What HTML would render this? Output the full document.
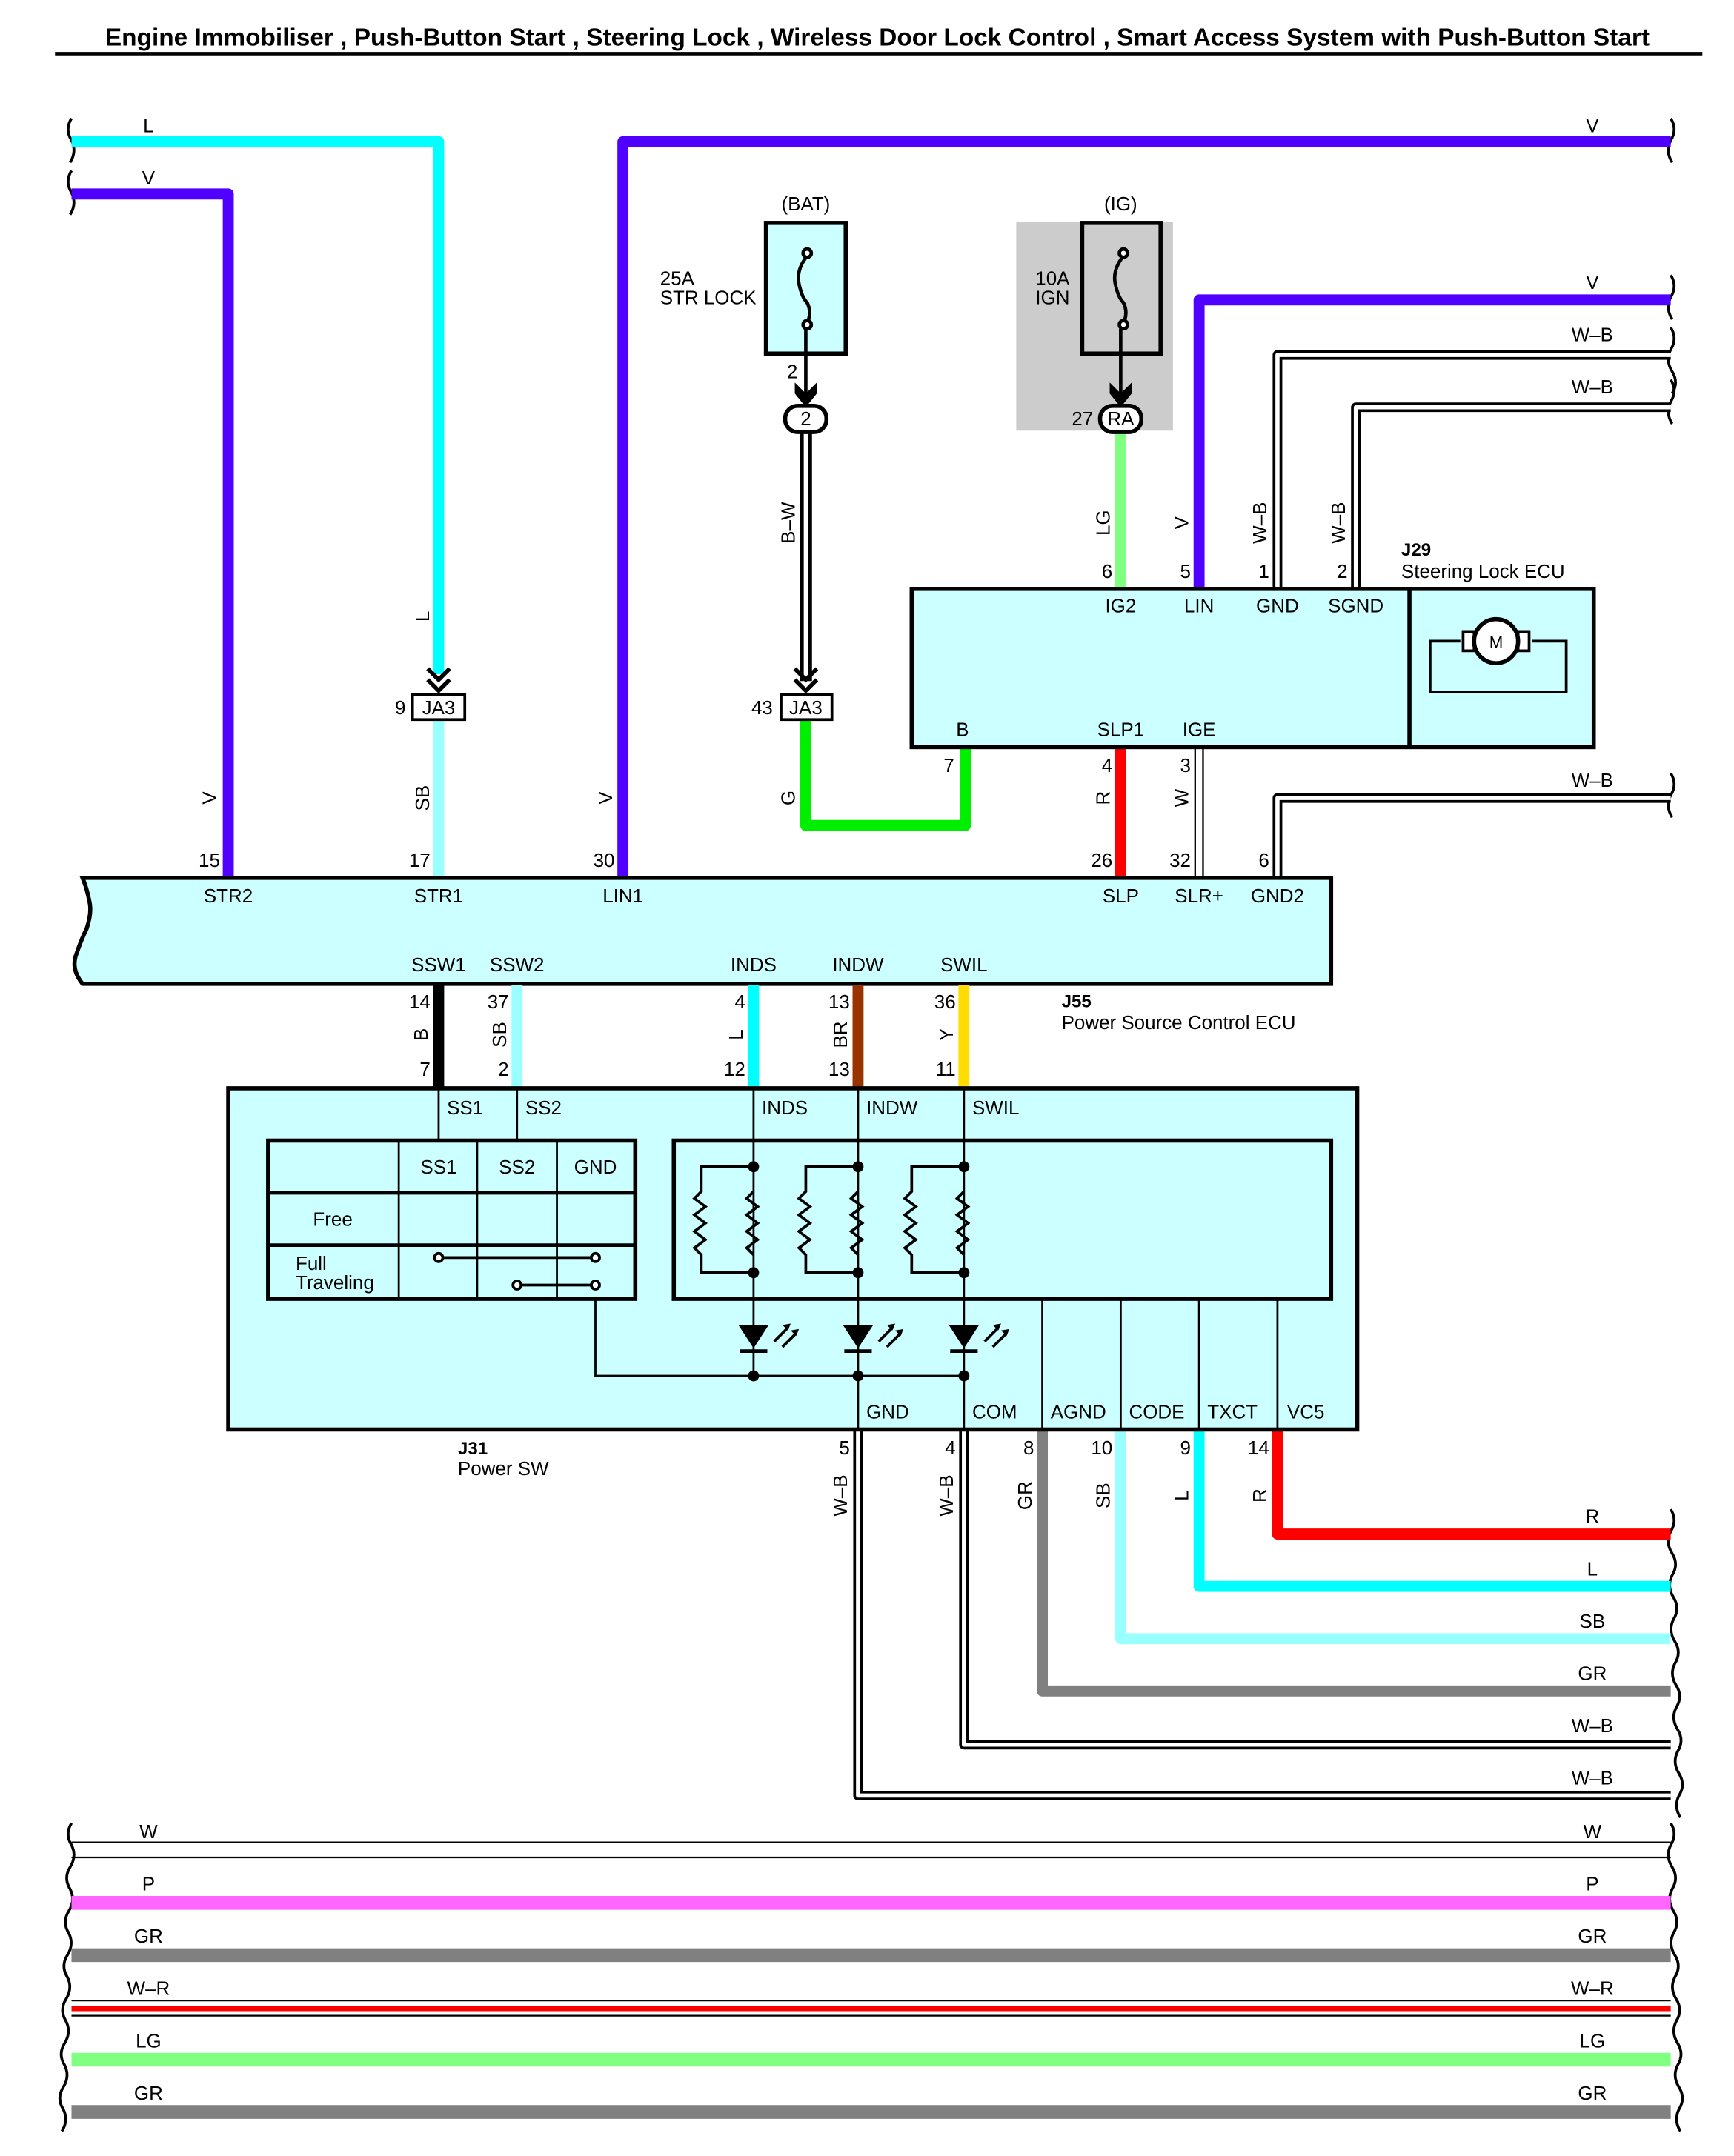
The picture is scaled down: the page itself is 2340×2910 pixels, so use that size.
<!DOCTYPE html>
<html><head><meta charset="utf-8"><style>
html,body{margin:0;padding:0;background:#fff;}
svg{display:block;}
text{font-family:"Liberation Sans",sans-serif;font-size:14px;fill:#000;}
.c{text-anchor:middle;}
.r{text-anchor:end;}
.b{font-weight:bold;}
</style></head><body>
<svg width="2340" height="2910" viewBox="0 0 1261 1567" preserveAspectRatio="none" xmlns="http://www.w3.org/2000/svg">
<rect width="1261" height="1567" fill="#fff"/>
<text x="638" y="33" class="c b" style="font-size:18px">Engine Immobiliser , Push-Button Start , Steering Lock , Wireless Door Lock Control , Smart Access System with Push-Button Start</text>
<line x1="40" y1="39" x2="1238" y2="39" stroke="#000" stroke-width="2.5"/>

<!-- wavy edges -->
<g fill="none" stroke="#000" stroke-width="2">
<path d="M52,86 q-5,8 0,16 q4,8 -1,16"/><path d="M52,124 q-5,8 0,16 q4,8 -1,16"/>
<path d="M1215,86 q5,8 0,16 q-4,8 1,16"/>
<path d="M1215,200 q5,8 0,16 q-4,8 1,16"/>
<path d="M1215,238 q5,8 0,16 q-4,8 1,16 q5,8 0,16"/>
<path d="M1215,276 q5,8 0,16 q-4,8 1,16"/>
<path d="M1215,562 q5,8 0,16 q-4,8 1,16"/>
<path d="M1215,1097 q5,8 0,16 q-4,8 1,16 q5,8 0,16 q-4,8 1,16 q5,8 0,16 q-4,8 1,16 q5,8 0,16 q-4,8 1,16 q5,8 0,16 q-4,8 1,16 q5,8 0,16 q-4,8 1,16 q5,8 0,16 q-4,8 1,16"/>
<path d="M52,1325 q-5,8 0,16 q4,8 -1,16 q-5,8 0,16 q4,8 -1,16 q-5,8 0,16 q4,8 -1,16 q-5,8 0,16 q4,8 -1,16 q-5,8 0,16 q4,8 -1,16 q-5,8 0,16 q4,8 -1,16 q-5,8 0,16 q4,8 -1,16"/>
<path d="M1215,1325 q5,8 0,16 q-4,8 1,16 q5,8 0,16 q-4,8 1,16 q5,8 0,16 q-4,8 1,16 q5,8 0,16 q-4,8 1,16 q5,8 0,16 q-4,8 1,16 q5,8 0,16 q-4,8 1,16 q5,8 0,16 q-4,8 1,16"/>
</g>

<!-- top wires -->
<g fill="none" stroke-linejoin="round">
<path d="M52,103 H319 V490" stroke="#00ffff" stroke-width="8"/>
<path d="M52,141 H166 V637" stroke="#5000ff" stroke-width="8"/>
<path d="M453,637 V103 H1215" stroke="#5000ff" stroke-width="8"/>
<path d="M872,428 V218 H1215" stroke="#5000ff" stroke-width="8"/>
<path d="M319,523 V637" stroke="#99ffff" stroke-width="8"/>
<path d="M815,313 V428" stroke="#80ff80" stroke-width="8"/>
<path d="M586,523 V600 H702 V543" stroke="#00ee00" stroke-width="8"/>
<path d="M815,543 V637" stroke="#ff0000" stroke-width="8"/>
<path d="M929,428 V258 H1215" stroke="#000" stroke-width="7"/><path d="M929,428 V258 H1215" stroke="#fff" stroke-width="3"/>
<path d="M986,428 V296 H1215" stroke="#000" stroke-width="7"/><path d="M986,428 V296 H1215" stroke="#fff" stroke-width="3"/>
<path d="M929,637 V580 H1215" stroke="#000" stroke-width="7"/><path d="M929,637 V580 H1215" stroke="#fff" stroke-width="3"/>
<path d="M872,543 V637" stroke="#000" stroke-width="7"/><path d="M872,543 V637" stroke="#fff" stroke-width="4.5"/>
<path d="M586,313 V495" stroke="#000" stroke-width="9"/><path d="M586,313 V495" stroke="#fff" stroke-width="3"/>
</g>

<g fill="none" stroke="#000" stroke-width="3">
<path d="M311,486 l8,8 l8,-8 M311,494 l8,8 l8,-8"/>
<path d="M578,486 l8,8 l8,-8 M578,494 l8,8 l8,-8"/>
</g>
<rect x="300" y="505" width="38" height="18" fill="#fff" stroke="#000" stroke-width="2"/>
<text x="319" y="519" class="c">JA3</text><text x="295" y="519" class="r">9</text>
<rect x="568" y="505" width="37" height="18" fill="#fff" stroke="#000" stroke-width="2"/>
<text x="586" y="519" class="c">JA3</text><text x="562" y="519" class="r">43</text>

<!-- fuses -->
<rect x="739" y="161" width="114" height="152" fill="#cccccc"/>
<rect x="557" y="162" width="58" height="95" fill="#ccffff" stroke="#000" stroke-width="3"/>
<rect x="787" y="162" width="57" height="95" fill="none" stroke="#000" stroke-width="3"/>
<g fill="none" stroke="#000" stroke-width="2.5">
<path d="M587,186 q-8,10 -6,20 q2,10 6,14 q4,8 -1,17"/><circle cx="587" cy="184" r="3" fill="#fff"/><circle cx="587" cy="236" r="3" fill="#fff"/>
<path d="M817,186 q-8,10 -6,20 q2,10 6,14 q4,8 -1,17"/><circle cx="817" cy="184" r="3" fill="#fff"/><circle cx="817" cy="236" r="3" fill="#fff"/>
<line x1="586" y1="239" x2="586" y2="290"/><line x1="815" y1="239" x2="815" y2="290"/>
</g>
<path d="M578,278 l8,8 l8,-8 v8 l-8,10 l-8,-10z" fill="#000"/>
<path d="M807,278 l8,8 l8,-8 v8 l-8,10 l-8,-10z" fill="#000"/>
<rect x="571" y="295" width="30" height="19" rx="9" fill="#fff" stroke="#000" stroke-width="3"/>
<text x="586" y="309" class="c">2</text>
<rect x="800" y="295" width="30" height="19" rx="9" fill="#fff" stroke="#000" stroke-width="3"/>
<text x="815" y="309" class="c">RA</text>
<text x="586" y="153" class="c">(BAT)</text><text x="815" y="153" class="c">(IG)</text>
<text x="480" y="207">25A</text><text x="480" y="221">STR LOCK</text>
<text x="753" y="207">10A</text><text x="753" y="221">IGN</text>
<text x="580" y="275" class="r">2</text><text x="795" y="309" class="r">27</text>

<!-- J29 -->
<rect x="663" y="428" width="496" height="115" fill="#ccffff" stroke="#000" stroke-width="3"/>
<line x1="1025" y1="428" x2="1025" y2="543" stroke="#000" stroke-width="3"/>
<g fill="none" stroke="#000" stroke-width="2">
<path d="M1062,466 H1040 V503 H1139 V466 H1114"/>
<rect x="1064" y="459" width="8" height="14" fill="#fff"/><rect x="1104" y="459" width="8" height="14" fill="#fff"/>
</g>
<circle cx="1088" cy="466" r="16" fill="#fff" stroke="#000" stroke-width="3"/>
<text x="1088" y="471" class="c" style="font-size:12px">M</text>
<text x="815" y="445" class="c">IG2</text><text x="872" y="445" class="c">LIN</text><text x="929" y="445" class="c">GND</text><text x="986" y="445" class="c">SGND</text>
<text x="700" y="535" class="c">B</text><text x="815" y="535" class="c">SLP1</text><text x="872" y="535" class="c">IGE</text>
<text x="1019" y="404" class="b" style="font-size:13px">J29</text><text x="1019" y="420">Steering Lock ECU</text>
<text x="809" y="420" class="r">6</text><text x="866" y="420" class="r">5</text><text x="923" y="420" class="r">1</text><text x="980" y="420" class="r">2</text>
<text x="809" y="561" class="r">4</text><text x="866" y="561" class="r">3</text><text x="694" y="561" class="r">7</text>

<g>
<text transform="translate(312,448) rotate(-90)" class="c">L</text>
<text transform="translate(157,580) rotate(-90)" class="c">V</text>
<text transform="translate(312,580) rotate(-90)" class="c">SB</text>
<text transform="translate(445,580) rotate(-90)" class="c">V</text>
<text transform="translate(578,580) rotate(-90)" class="c">G</text>
<text transform="translate(578,380) rotate(-90)" class="c">B–W</text>
<text transform="translate(807,380) rotate(-90)" class="c">LG</text>
<text transform="translate(864,380) rotate(-90)" class="c">V</text>
<text transform="translate(921,380) rotate(-90)" class="c">W–B</text>
<text transform="translate(978,380) rotate(-90)" class="c">W–B</text>
<text transform="translate(807,580) rotate(-90)" class="c">R</text>
<text transform="translate(864,580) rotate(-90)" class="c">W</text>
<text transform="translate(311,752) rotate(-90)" class="c">B</text>
<text transform="translate(368,752) rotate(-90)" class="c">SB</text>
<text transform="translate(540,752) rotate(-90)" class="c">L</text>
<text transform="translate(616,752) rotate(-90)" class="c">BR</text>
<text transform="translate(693,752) rotate(-90)" class="c">Y</text>
<text transform="translate(616,1087) rotate(-90)" class="c">W–B</text>
<text transform="translate(693,1087) rotate(-90)" class="c">W–B</text>
<text transform="translate(750,1087) rotate(-90)" class="c">GR</text>
<text transform="translate(807,1087) rotate(-90)" class="c">SB</text>
<text transform="translate(864,1087) rotate(-90)" class="c">L</text>
<text transform="translate(921,1087) rotate(-90)" class="c">R</text>
</g>
<text x="108" y="96" class="c">L</text><text x="108" y="134" class="c">V</text>
<text x="1158" y="96" class="c">V</text><text x="1158" y="210" class="c">V</text>
<text x="1158" y="248" class="c">W–B</text><text x="1158" y="286" class="c">W–B</text><text x="1158" y="572" class="c">W–B</text>
<text x="160" y="630" class="r">15</text><text x="313" y="630" class="r">17</text><text x="447" y="630" class="r">30</text>
<text x="809" y="630" class="r">26</text><text x="866" y="630" class="r">32</text><text x="923" y="630" class="r">6</text>

<!-- J55 -->
<path d="M60,638 H968 V715 H60 q-8,-10 -5,-20 q4,-12 8,-20 q4,-12 2,-20 q-2,-10 -5,-17z" fill="#ccffff" stroke="#000" stroke-width="3"/>
<text x="166" y="656" class="c">STR2</text><text x="319" y="656" class="c">STR1</text><text x="453" y="656" class="c">LIN1</text>
<text x="815" y="656" class="c">SLP</text><text x="872" y="656" class="c">SLR+</text><text x="929" y="656" class="c">GND2</text>
<text x="319" y="706" class="c">SSW1</text><text x="376" y="706" class="c">SSW2</text><text x="548" y="706" class="c">INDS</text><text x="624" y="706" class="c">INDW</text><text x="701" y="706" class="c">SWIL</text>
<text x="772" y="732" class="b" style="font-size:13px">J55</text><text x="772" y="748">Power Source Control ECU</text>

<g stroke-width="8">
<line x1="319" y1="716" x2="319" y2="790" stroke="#000"/>
<line x1="376" y1="716" x2="376" y2="790" stroke="#99ffff"/>
<line x1="548" y1="716" x2="548" y2="790" stroke="#00ffff"/>
<line x1="624" y1="716" x2="624" y2="790" stroke="#993300"/>
<line x1="701" y1="716" x2="701" y2="790" stroke="#ffdd00"/>
</g>
<text x="313" y="733" class="r">14</text><text x="370" y="733" class="r">37</text><text x="542" y="733" class="r">4</text><text x="618" y="733" class="r">13</text><text x="695" y="733" class="r">36</text>
<text x="313" y="782" class="r">7</text><text x="370" y="782" class="r">2</text><text x="542" y="782" class="r">12</text><text x="618" y="782" class="r">13</text><text x="695" y="782" class="r">11</text>

<g fill="none" stroke-linejoin="round">
<path d="M929,1040 V1115 H1215" stroke="#ff0000" stroke-width="8"/>
<path d="M872,1040 V1153 H1215" stroke="#00ffff" stroke-width="8"/>
<path d="M815,1040 V1191 H1215" stroke="#99ffff" stroke-width="8"/>
<path d="M758,1040 V1229 H1215" stroke="#808080" stroke-width="8"/>
<path d="M701,1040 V1268 H1215" stroke="#000" stroke-width="7"/><path d="M701,1040 V1268 H1215" stroke="#fff" stroke-width="3"/>
<path d="M624,1040 V1305 H1215" stroke="#000" stroke-width="7"/><path d="M624,1040 V1305 H1215" stroke="#fff" stroke-width="3"/>
</g>
<text x="618" y="1057" class="r">5</text><text x="695" y="1057" class="r">4</text><text x="752" y="1057" class="r">8</text><text x="809" y="1057" class="r">10</text><text x="866" y="1057" class="r">9</text><text x="923" y="1057" class="r">14</text>
<text x="1158" y="1107" class="c">R</text><text x="1158" y="1145" class="c">L</text><text x="1158" y="1183" class="c">SB</text><text x="1158" y="1221" class="c">GR</text><text x="1158" y="1259" class="c">W–B</text><text x="1158" y="1297" class="c">W–B</text>

<!-- J31 -->
<rect x="166" y="791" width="821" height="248" fill="#ccffff" stroke="#000" stroke-width="3"/>
<g stroke="#000" stroke-width="1.5" fill="none">
<line x1="319" y1="791" x2="319" y2="829"/><line x1="376" y1="791" x2="376" y2="829"/>
<line x1="548" y1="791" x2="548" y2="1000"/><line x1="624" y1="791" x2="624" y2="1039"/><line x1="701" y1="791" x2="701" y2="1039"/>
<line x1="758" y1="944" x2="758" y2="1039"/><line x1="815" y1="944" x2="815" y2="1039"/><line x1="872" y1="944" x2="872" y2="1039"/><line x1="929" y1="944" x2="929" y2="1039"/>
<line x1="290" y1="829" x2="290" y2="944"/><line x1="347" y1="829" x2="347" y2="944"/><line x1="405" y1="829" x2="405" y2="944"/>
<path d="M433,944 V1000 H701"/>
</g>
<rect x="195" y="829" width="267" height="115" fill="none" stroke="#000" stroke-width="3"/>
<line x1="195" y1="867" x2="462" y2="867" stroke="#000" stroke-width="2.5"/>
<line x1="195" y1="905" x2="462" y2="905" stroke="#000" stroke-width="2.5"/>
<rect x="490" y="829" width="478" height="115" fill="none" stroke="#000" stroke-width="3"/>
<g stroke="#000" stroke-width="2" fill="#fff">
<line x1="319" y1="914" x2="433" y2="914"/><circle cx="319" cy="914" r="3"/><circle cx="433" cy="914" r="3"/>
<line x1="376" y1="934" x2="433" y2="934"/><circle cx="376" cy="934" r="3"/><circle cx="433" cy="934" r="3"/>
</g>
<text x="319" y="853" class="c">SS1</text><text x="376" y="853" class="c">SS2</text><text x="433" y="853" class="c">GND</text>
<text x="242" y="891" class="c">Free</text><text x="215" y="923">Full</text><text x="215" y="937">Traveling</text>
<g id="rs" fill="none" stroke="#000" stroke-width="2">
<path d="M548,848 H510 V866 l-5,5 l8,6 l-8,6 l8,6 l-8,6 l8,6 l-8,6 l5,5 V925 H548"/>
<path d="M548,866 l-5,5 l8,6 l-8,6 l8,6 l-8,6 l8,6 l-8,6 l5,5"/>
</g>
<use href="#rs" x="76"/><use href="#rs" x="153"/>
<g id="led">
<path d="M537,963 H559 L548,980z" fill="#000"/><line x1="538" y1="982" x2="558" y2="982" stroke="#000" stroke-width="2.5"/>
<path d="M563,975 l10,-10 M569,979 l10,-10" stroke="#000" stroke-width="2"/>
<path d="M575,962 l-6,1 l4,4z M581,966 l-6,1 l4,4z" fill="#000"/>
<circle cx="548" cy="848" r="4" fill="#000"/><circle cx="548" cy="925" r="4" fill="#000"/><circle cx="548" cy="1000" r="4" fill="#000"/>
</g>
<use href="#led" x="76"/><use href="#led" x="153"/>
<text x="325" y="810">SS1</text><text x="382" y="810">SS2</text><text x="554" y="810">INDS</text><text x="630" y="810">INDW</text><text x="707" y="810">SWIL</text>
<text x="630" y="1031">GND</text><text x="707" y="1031">COM</text><text x="764" y="1031">AGND</text><text x="821" y="1031">CODE</text><text x="878" y="1031">TXCT</text><text x="936" y="1031">VC5</text>
<text x="333" y="1057" class="b" style="font-size:13px">J31</text><text x="333" y="1072">Power SW</text>

<!-- bottom bus -->
<line x1="52" y1="1339" x2="1215" y2="1339" stroke="#000" stroke-width="1.2"/>
<line x1="52" y1="1350" x2="1215" y2="1350" stroke="#000" stroke-width="1.2"/>
<line x1="52" y1="1383" x2="1215" y2="1383" stroke="#ff66ff" stroke-width="10"/>
<line x1="52" y1="1421" x2="1215" y2="1421" stroke="#808080" stroke-width="10"/>
<line x1="52" y1="1454" x2="1215" y2="1454" stroke="#000" stroke-width="1.2"/>
<line x1="52" y1="1460" x2="1215" y2="1460" stroke="#ff0000" stroke-width="3.5"/>
<line x1="52" y1="1465" x2="1215" y2="1465" stroke="#000" stroke-width="1.2"/>
<line x1="52" y1="1497" x2="1215" y2="1497" stroke="#80ff80" stroke-width="10"/>
<line x1="52" y1="1535" x2="1215" y2="1535" stroke="#808080" stroke-width="10"/>
<text x="108" y="1336" class="c">W</text><text x="1158" y="1336" class="c">W</text>
<text x="108" y="1374" class="c">P</text><text x="1158" y="1374" class="c">P</text>
<text x="108" y="1412" class="c">GR</text><text x="1158" y="1412" class="c">GR</text>
<text x="108" y="1450" class="c">W–R</text><text x="1158" y="1450" class="c">W–R</text>
<text x="108" y="1488" class="c">LG</text><text x="1158" y="1488" class="c">LG</text>
<text x="108" y="1526" class="c">GR</text><text x="1158" y="1526" class="c">GR</text>
</svg>
</body></html>
